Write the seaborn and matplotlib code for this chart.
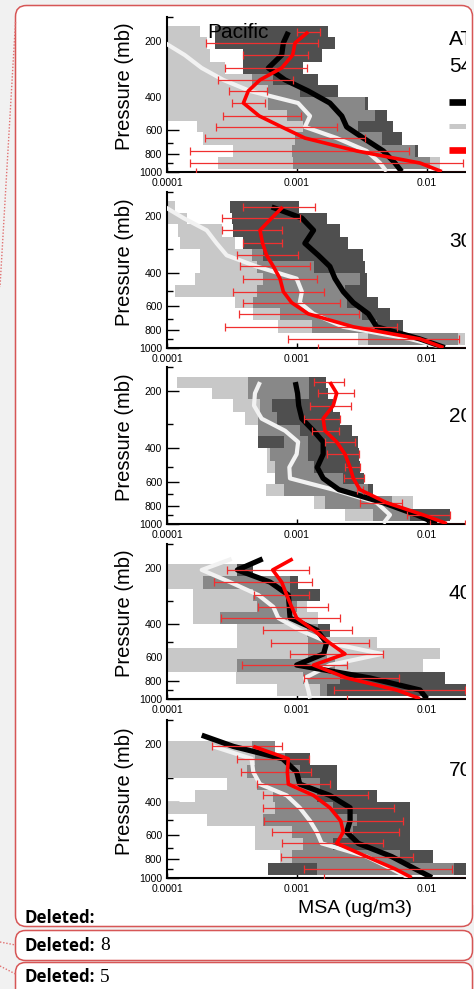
import numpy as np
import pandas as pd
import matplotlib
matplotlib.use("Agg")
import matplotlib.pyplot as plt
from matplotlib.patches import FancyBboxPatch, Rectangle
from matplotlib.lines import Line2D
from matplotlib.transforms import IdentityTransform
from matplotlib.ticker import FixedLocator, FixedFormatter, NullLocator, NullFormatter
import seaborn as sns

sns.set_theme(style="ticks")
plt.rcParams["font.family"] = ["Liberation Sans", "DejaVu Sans"]

NAN = np.nan

# ---------------------------------------------------------------- data
# pressure bin centres (mb), top to bottom; profiles also carry a surface point
LEVELS = [180, 206, 239, 280, 324, 371, 430, 504, 576, 660, 773, 896]
SURFACE = 995
PROFILE_P = LEVELS + [SURFACE]

CAMPAIGN = "ATom"
BASIN = "Pacific"
REGIONS = ["54N-90N", "30N-54N", "20S-30N", "40S-20S", "70S-40S"]
SERIES = ["Observed", "Model", "Model (updated)"]

X_TICKS = [1e-4, 1e-3, 1e-2, 1e-1]
X_TICK_LABELS = ["0.0001", "0.001", "0.01", "0.1"]
Y_TICKS = [200, 400, 600, 800, 1000]
Y_MINOR = [150, 300, 500, 700, 900]

# observed median profile (black), one row per region, MSA in ug/m3
OBS_MEDIAN = [
    [8.58e-4, 7.85e-4, 7.62e-4, 6.02e-4, 8.09e-4, 1.22e-3, 1.79e-3, 2.21e-3, 2.41e-3, 3.24e-3, 4.61e-3, 5.67e-3, 6.38e-3],
    [6.38e-4, 1.09e-3, 1.34e-3, 1.15e-3, 1.46e-3, 1.79e-3, 1.96e-3, 2.27e-3, 2.71e-3, 3.54e-3, 4.10e-3, 8.83e-3, 1.37e-2],
    [9.71e-4, 1.01e-3, 1.03e-3, 1.09e-3, 1.34e-3, 1.59e-3, 1.59e-3, 1.43e-3, 1.59e-3, 2.10e-3, 4.60e-3, 8.33e-3, 1.19e-2],
    [5.44e-4, 3.48e-4, 6.20e-4, 8.58e-4, 8.73e-4, 8.83e-4, 1.42e-3, 1.69e-3, 1.60e-3, 9.94e-4, 3.64e-3, 8.83e-3, 9.94e-3],
    [1.85e-4, 3.24e-4, 7.76e-4, 9.94e-4, 1.05e-3, 1.79e-3, 2.56e-3, 2.56e-3, 2.41e-3, 2.96e-3, 5.35e-3, 8.09e-3, 1.09e-2],
]
# model median profile (white line)
MODEL_MEDIAN = [
    [6.98e-5, 9.65e-5, 1.37e-4, 1.85e-4, 2.71e-4, 4.35e-4, 1.02e-3, 1.26e-3, 1.15e-3, 2.02e-3, 3.43e-3, 4.35e-3, 4.89e-3],
    [9.65e-5, 1.34e-4, 2.02e-4, 2.41e-4, 2.88e-4, 4.89e-4, 9.94e-4, 1.09e-3, 1.05e-3, 1.34e-3, 2.27e-3, 7.40e-3, 1.34e-2],
    [5.19e-4, 4.75e-4, 4.67e-4, 5.35e-4, 8.09e-4, 1.02e-3, 9.94e-4, 8.73e-4, 8.83e-4, 1.90e-3, 4.10e-3, 5.19e-3, 4.61e-3],
    [3.14e-4, 1.85e-4, 3.05e-4, 5.04e-4, 6.58e-4, 7.18e-4, 1.05e-3, 1.79e-3, 4.48e-3, 1.79e-3, 1.15e-3, 1.22e-3, 1.26e-3],
    [NAN, 2.27e-4, 4.48e-4, 4.61e-4, 5.19e-4, 8.33e-4, 1.05e-3, 1.26e-3, 1.42e-3, 1.55e-3, 3.43e-3, 5.35e-3, 7.18e-3],
]
# updated model: median (red) with its spread
UPD_MEDIAN = [
    [1.22e-3, 9.66e-4, 9.26e-4, 7.62e-4, 5.19e-4, 4.22e-4, 3.87e-4, 5.13e-4, 7.62e-4, 1.15e-3, 2.88e-3, 8.83e-3, 1.30e-2],
    [7.76e-4, 6.38e-4, 5.19e-4, 5.44e-4, 5.84e-4, 6.58e-4, 7.40e-4, 7.85e-4, 9.10e-4, 1.22e-3, 2.71e-3, 8.83e-3, 1.34e-2],
    [1.79e-3, 2.02e-3, 1.90e-3, 1.59e-3, 1.64e-3, 2.02e-3, 2.34e-3, 2.56e-3, 2.71e-3, 3.05e-3, 4.89e-3, 9.37e-3, 1.42e-2],
    [9.26e-4, 6.50e-4, 7.62e-4, 8.33e-4, 9.10e-4, 9.94e-4, 1.34e-3, 1.79e-3, 2.34e-3, 1.34e-3, 2.41e-3, 5.84e-3, 8.83e-3],
    [NAN, 4.61e-4, 8.58e-4, 8.43e-4, 8.58e-4, 1.34e-3, 1.79e-3, 2.17e-3, 2.27e-3, 2.02e-3, 3.43e-3, 5.67e-3, 7.62e-3],
]
UPD_LOW = [
    [9.94e-4, 1.98e-4, 3.82e-4, 2.79e-4, 2.48e-4, 3.02e-4, 3.14e-4, 2.68e-4, 2.37e-4, 1.96e-4, 1.50e-4, 1.50e-4, 1.66e-4],
    [3.87e-4, 2.63e-4, 2.63e-4, 3.82e-4, 3.43e-4, 3.64e-4, 3.82e-4, 3.24e-4, 3.87e-4, 3.60e-4, 2.79e-4, 8.58e-4, 1.46e-3],
    [1.36e-3, 1.46e-3, 1.27e-3, 1.13e-3, 1.30e-3, 1.64e-3, 1.69e-3, 2.34e-3, 2.31e-3, 2.88e-3, 3.05e-3, 7.06e-3, 1.05e-2],
    [NAN, 2.88e-4, 2.31e-4, 4.67e-4, 4.98e-4, 2.59e-4, 5.51e-4, 6.27e-4, 8.83e-4, 3.75e-4, 1.13e-3, 1.94e-3, 2.41e-3],
    [NAN, 2.23e-4, 3.43e-4, 3.69e-4, 4.89e-4, 5.51e-4, 5.44e-4, 5.61e-4, 6.46e-4, 7.71e-4, 7.53e-4, 1.13e-3, 1.60e-3],
]
UPD_HIGH = [
    [1.50e-3, 1.46e-3, 1.22e-3, 1.19e-3, 9.37e-4, 5.84e-4, 5.67e-4, 1.07e-3, 2.04e-3, 3.33e-3, 7.31e-3, 1.90e-2, 5.0e-2],
    [1.37e-3, 1.05e-3, 7.62e-4, 7.62e-4, 1.02e-3, 1.27e-3, 1.42e-3, 1.61e-3, 2.14e-3, 3.02e-3, 5.91e-3, 1.77e-2, 5.0e-2],
    [2.30e-3, 2.74e-3, 2.59e-3, 2.14e-3, 2.10e-3, 2.79e-3, 3.02e-3, 3.05e-3, 3.28e-3, 3.20e-3, 6.46e-3, 1.49e-2, 1.96e-2],
    [NAN, 1.24e-3, 1.31e-3, 1.24e-3, 1.74e-3, 2.14e-3, 2.63e-3, 3.60e-3, 4.56e-3, 2.41e-3, 6.12e-3, 1.96e-2, 5.0e-2],
    [NAN, 7.71e-4, 1.24e-3, 1.28e-3, 1.79e-3, 3.54e-3, 5.57e-3, 6.58e-3, 6.09e-3, 4.56e-3, 7.76e-3, 1.57e-2, 5.0e-2],
]
# per-bin ranges: model (light grey) and observations (dark grey)
MODEL_LOW = [
    [7.4e-5, 7.4e-5, 7.4e-5, 7.4e-5, 7.4e-5, 7.4e-5, 7.4e-5, 7.4e-5, 1.69e-4, 1.90e-4, 3.24e-4, 2.48e-4],
    [7.4e-5, 7.4e-5, 1.22e-4, 1.26e-4, 1.79e-4, 1.79e-4, 1.64e-4, 1.15e-4, 3.33e-4, 4.61e-4, 7.18e-4, 2.96e-3],
    [1.20e-4, 2.21e-4, 3.24e-4, 3.98e-4, 5.04e-4, 7.94e-4, 5.84e-4, 5.84e-4, 6.77e-4, 5.77e-4, 1.34e-3, 2.34e-3],
    [NAN, 7.4e-5, 7.4e-5, 1.59e-4, 1.59e-4, 1.58e-4, 3.43e-4, 3.43e-4, 7.4e-5, 7.4e-5, 3.40e-4, 6.98e-4],
    [NAN, 7.4e-5, 7.4e-5, 7.4e-5, 2.88e-4, 1.64e-4, 7.4e-5, 2.02e-4, 4.75e-4, 4.75e-4, 7.40e-4, 1.42e-3],
]
MODEL_HIGH = [
    [1.79e-4, 2.02e-4, 2.14e-4, 2.79e-4, 6.58e-4, 1.05e-3, 3.33e-3, 3.98e-3, 2.96e-3, 4.48e-3, 8.09e-3, 1.26e-2],
    [1.15e-4, 1.43e-4, 2.63e-4, 3.33e-4, 5.51e-4, 1.34e-3, 3.05e-3, 2.34e-3, 2.41e-3, 3.14e-3, 4.10e-3, 1.96e-2],
    [1.24e-3, 1.24e-3, 6.38e-4, 6.98e-4, 1.05e-3, 1.22e-3, 1.22e-3, 1.34e-3, 2.24e-3, 3.54e-3, 7.85e-3, 7.40e-3],
    [NAN, 3.43e-4, 8.83e-4, 8.83e-4, 1.19e-3, 1.46e-3, 1.46e-3, 4.10e-3, 1.26e-2, 9.37e-3, 2.14e-3, 1.69e-3],
    [NAN, 6.77e-4, 8.09e-4, 1.05e-3, 1.50e-3, 1.42e-3, 1.90e-3, 2.88e-3, 2.71e-3, 1.90e-3, 6.20e-3, 1.60e-2],
]
OBS_LOW = [
    [2.34e-4, 2.34e-4, 3.87e-4, 3.87e-4, 4.48e-4, 6.02e-4, 6.02e-4, 8.33e-4, 1.12e-3, 9.66e-4, 9.10e-4, 9.37e-4],
    [3.05e-4, 3.14e-4, 3.24e-4, 3.87e-4, 4.48e-4, 4.89e-4, 5.51e-4, 4.89e-4, 4.61e-4, 7.40e-4, 1.30e-3, 3.54e-3],
    [4.22e-4, 4.22e-4, 5.19e-4, 5.04e-4, 5.04e-4, 5.04e-4, 6.20e-4, 6.77e-4, 6.77e-4, 7.94e-4, 1.64e-3, 3.87e-3],
    [NAN, 3.43e-4, 1.90e-4, 4.61e-4, 4.89e-4, 2.56e-4, 1.19e-3, 1.22e-3, 1.22e-3, 3.43e-4, 1.12e-3, 1.50e-3],
    [NAN, 4.48e-4, 4.75e-4, 4.10e-4, 4.89e-4, 6.58e-4, 6.77e-4, 5.51e-4, 9.10e-4, 1.12e-3, 9.10e-4, 5.95e-4],
]
OBS_HIGH = [
    [1.74e-3, 1.96e-3, 1.55e-3, 1.12e-3, 1.46e-3, 2.08e-3, 3.54e-3, 4.89e-3, 5.51e-3, 6.38e-3, 8.58e-3, 1.05e-2],
    [1.04e-3, 1.69e-3, 2.14e-3, 2.48e-3, 3.24e-3, 3.33e-3, 3.43e-3, 3.43e-3, 4.22e-3, 5.19e-3, 6.58e-3, 1.74e-2],
    [1.66e-3, 1.74e-3, 1.90e-3, 2.14e-3, 2.63e-3, 2.96e-3, 3.02e-3, 3.05e-3, 3.28e-3, 3.87e-3, 5.35e-3, 1.50e-2],
    [NAN, 4.61e-4, 1.02e-3, 1.50e-3, 9.94e-4, 8.33e-4, 1.79e-3, 1.60e-3, 1.69e-3, 1.96e-3, 1.37e-2, 2.02e-2],
    [NAN, 6.77e-4, 1.26e-3, 2.02e-3, 2.02e-3, 4.10e-3, 7.40e-3, 7.40e-3, 7.40e-3, 7.40e-3, 1.12e-2, 2.02e-2],
]

# ---------------------------------------------------------------- style / layout
W, H, DPI = 474, 989, 100
PAGE = "#f1f1f1"
BORDER = "#d65656"
LIGHT, MID, DARK = "#c8c8c8", "#888888", "#4f4f4f"
WHITE_LINE = "#f2f2f2"
RED = "#ff0000"
ERR_RED = "#f03030"

AX_TOP = [17, 192, 367, 544, 720]
AX_BOTTOM = [172, 348, 524, 699, 878]
AX_LEFT, AX_SPAN = 167, 390          # pixels; axes run 0.0001 .. 0.1 and are cut off on the right
CUT_X = 466                          # right edge of the visible drawing area

fig = plt.figure(figsize=(W / DPI, H / DPI), dpi=DPI)
fig.patch.set_facecolor(PAGE)
PX = IdentityTransform()

# comment balloon behind the chart
fig.add_artist(FancyBboxPatch((15.5, H - 926.5), 457, 921, boxstyle="round,pad=0,rounding_size=11",
                              transform=PX, fc="white", ec="none", zorder=-2))

lev = np.array(LEVELS, float)
inner = np.sqrt(lev[:-1] * lev[1:])
bin_top = np.r_[lev[0] ** 2 / inner[0], inner]
bin_bot = np.r_[inner, lev[-1] ** 2 / inner[-1]]


def ranges(ax, lo, hi, color, z):
    lo = np.asarray(lo, float)
    hi = np.asarray(hi, float)
    ok = np.isfinite(lo) & np.isfinite(hi) & (hi > lo)
    ax.barh(bin_top[ok], (hi - lo)[ok], left=lo[ok], height=(bin_bot - bin_top)[ok],
            align="edge", color=color, linewidth=0, zorder=z)


def profile(ax, values, color, lw, z):
    df = pd.DataFrame({"p": PROFILE_P, "msa": values}).dropna()
    sns.lineplot(data=df, x="msa", y="p", orient="y", sort=False, estimator=None,
                 color=color, linewidth=lw, ax=ax, zorder=z, solid_capstyle="butt")


axes = []
for i, region in enumerate(REGIONS):
    top, bot = AX_TOP[i], AX_BOTTOM[i]
    ax = fig.add_axes([AX_LEFT / W, 1 - bot / H, AX_SPAN / W, (bot - top) / H])
    ax.set_facecolor("none")
    ax.set_xscale("log")
    ax.set_yscale("log")

    # spread boxes: model, observations, and their overlap
    ranges(ax, MODEL_LOW[i], MODEL_HIGH[i], LIGHT, 1)
    ranges(ax, OBS_LOW[i], OBS_HIGH[i], DARK, 1.1)
    ranges(ax, np.fmax(MODEL_LOW[i], OBS_LOW[i]), np.fmin(MODEL_HIGH[i], OBS_HIGH[i]), MID, 1.2)

    profile(ax, MODEL_MEDIAN[i], WHITE_LINE, 3.0, 3)
    profile(ax, OBS_MEDIAN[i], "black", 3.8, 4)

    x = np.array(UPD_MEDIAN[i], float)
    lo = np.array(UPD_LOW[i], float)
    hi = np.array(UPD_HIGH[i], float)
    xerr = np.clip(np.vstack([x - lo, hi - x]), 0, None)
    ax.errorbar(x, PROFILE_P, xerr=xerr, fmt="none", ecolor=ERR_RED, elinewidth=0.9,
                capsize=2.6, capthick=0.9, zorder=5)
    profile(ax, UPD_MEDIAN[i], RED, 2.6, 6)

    ax.set_xlim(1e-4, 1e-1)
    ax.set_ylim(1000, 150)

    ax.xaxis.set_major_locator(FixedLocator(X_TICKS))
    ax.xaxis.set_major_formatter(FixedFormatter(X_TICK_LABELS))
    ax.xaxis.set_minor_locator(NullLocator())
    ax.yaxis.set_major_locator(FixedLocator(Y_TICKS))
    ax.yaxis.set_major_formatter(FixedFormatter([str(t) for t in Y_TICKS]))
    ax.yaxis.set_minor_locator(FixedLocator(Y_MINOR))
    ax.yaxis.set_minor_formatter(NullFormatter())

    ax.tick_params(axis="y", which="major", direction="in", length=8.6, width=1.0,
                   labelsize=7.5, pad=3.4, colors="black")
    ax.tick_params(axis="y", which="minor", direction="in", length=4.3, width=1.0, colors="black")
    ax.tick_params(axis="x", which="major", direction="in", length=3.6, width=1.0,
                   labelsize=7.5, pad=4.0, colors="black")
    for side in ("top", "right"):
        ax.spines[side].set_visible(False)
    for side in ("left", "bottom"):
        ax.spines[side].set_color("black")
        ax.spines[side].set_linewidth(1.5)

    ax.set_ylabel("Pressure (mb)", fontsize=14.5, color="black")
    ax.yaxis.set_label_coords(-0.085, 0.552)
    ax.set_xlabel("")

    ax.text(0.723, 0.682, region, transform=ax.transAxes, fontsize=15, va="center",
            ha="left", color="black", zorder=8)
    axes.append(ax)

top_ax = axes[0]
top_ax.text(0.1026, 0.897, BASIN, transform=top_ax.transAxes, fontsize=15,
            va="center", ha="left", color="black", zorder=8)
top_ax.text(0.723, 0.852, CAMPAIGN, transform=top_ax.transAxes, fontsize=15,
            va="center", ha="left", color="black", zorder=8)

# legend keys
for yk, col, lw, name in [(0.452, "black", 4.8, SERIES[0]),
                           (0.297, LIGHT, 3.6, SERIES[1]),
                           (0.142, RED, 4.8, SERIES[2])]:
    top_ax.plot([0.723, 0.79], [yk, yk], transform=top_ax.transAxes, color=col,
                linewidth=lw, solid_capstyle="butt", clip_on=False, zorder=8)
    top_ax.text(0.81, yk, name, transform=top_ax.transAxes, fontsize=13,
                va="center", ha="left", zorder=8)

axes[-1].set_xlabel("MSA (ug/m3)", fontsize=14, color="black")
axes[-1].xaxis.set_label_coords(0.483, -0.139)

# the drawing is cut off before the balloon's right border
fig.add_artist(Rectangle((CUT_X, H - 905), W - CUT_X, 905 - 16, transform=PX,
                         fc="white", ec="none", zorder=20))

# balloon borders and the two smaller balloons
fig.add_artist(FancyBboxPatch((15.5, H - 926.5), 457, 921, boxstyle="round,pad=0,rounding_size=11",
                              transform=PX, fc="none", ec=BORDER, lw=1.1, zorder=30))
for y0, y1 in [(930.5, 960.5), (962.5, 1000)]:
    fig.add_artist(FancyBboxPatch((15.5, H - y1), 457, y1 - y0, boxstyle="round,pad=0,rounding_size=10",
                                  transform=PX, fc="white", ec=BORDER, lw=1.1, zorder=30))

dot = dict(transform=PX, color="#e07070", lw=1.0, ls=(0, (1, 1.3)), zorder=31)
fig.add_artist(Line2D([15.5, 0], [H - 22, H - 287], **dot))
fig.add_artist(Line2D([0, 15.5], [H - 942, H - 945], **dot))
fig.add_artist(Line2D([0, 15.5], [H - 966, H - 974], **dot))

label_font = dict(transform=PX, fontsize=12.2, fontweight="bold",
                  family=["Open Sans", "DejaVu Sans"],
                  va="center", ha="left", color="black", zorder=32)
fig.text(25, H - 918, "Deleted:", **label_font)
fig.text(25, H - 946, "Deleted:", **label_font)
fig.text(25, H - 977, "Deleted:", **label_font)
serif = dict(transform=PX, fontsize=14, family=["Liberation Serif", "DejaVu Serif"],
             va="center", ha="left", color="black", zorder=32)
fig.text(100, H - 946, "8", **serif)
fig.text(100, H - 977, "5", **serif)

fig.savefig("out.png", dpi=DPI, facecolor=fig.get_facecolor())
